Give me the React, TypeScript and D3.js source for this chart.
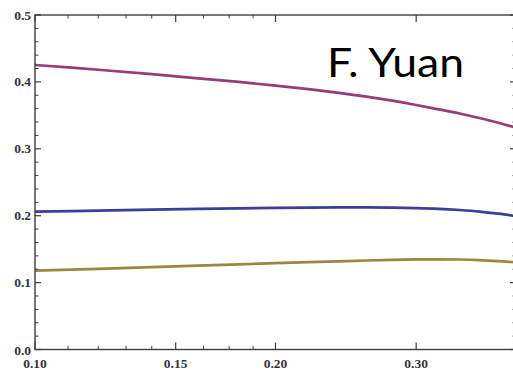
import React from "react";
import * as d3 from "d3";

// Sample abscissae (log axis) and the three curves
const xs = [0.10, 0.12, 0.14, 0.16, 0.18, 0.20, 0.22, 0.24, 0.26, 0.28, 0.30, 0.32, 0.34, 0.36, 0.38, 0.40];
const magentaSeries = [0.4253, 0.4182, 0.4115, 0.4054, 0.3999, 0.3945, 0.3891, 0.3837, 0.378, 0.3719, 0.3655, 0.3589, 0.3528, 0.346, 0.3389, 0.3317];
const blueSeries = [0.206, 0.2075, 0.209, 0.2101, 0.211, 0.2116, 0.212, 0.2123, 0.2123, 0.212, 0.2114, 0.2103, 0.2085, 0.2062, 0.203, 0.1993];
const oliveSeries = [0.1178, 0.1205, 0.123, 0.1253, 0.1273, 0.129, 0.1305, 0.1318, 0.133, 0.134, 0.1346, 0.1348, 0.1345, 0.1335, 0.132, 0.1303];

const xMajorTicks = [0.10, 0.15, 0.20, 0.30];
const xMajorLabels = ["0.10", "0.15", "0.20", "0.30"];
const xMinorTicks = [0.11, 0.12, 0.13, 0.14, 0.1625, 0.175, 0.1875];
const yMajorTicks = [0.0, 0.1, 0.2, 0.3, 0.4, 0.5];
const yMajorLabels = ["0.0", "0.1", "0.2", "0.3", "0.4", "0.5"];
const yMinorTicks = d3.range(0, 0.5001, 0.02).filter((v) => Math.abs(v * 10 - Math.round(v * 10)) > 1e-6);

const series = [
  { values: magentaSeries, color: "#973d72" },
  { values: blueSeries, color: "#3e3d9a" },
  { values: oliveSeries, color: "#988840" },
];

const W = 513;
const H = 371;
const left = 35;
const right = 516;
const top = 15;
const bottom = 349.5;

export default function App() {
  const x = d3.scaleLog().domain([0.1, 0.4]).range([left, right]);
  const y = d3.scaleLinear().domain([0, 0.5]).range([bottom, top]);
  const line = d3
    .line<number>()
    .x((_, i) => x(xs[i]))
    .y((v) => y(v))
    .curve(d3.curveCatmullRom);

  const frameColor = "#3d3d3d";
  const labelStyle: React.CSSProperties = {
    fontFamily: "'Liberation Serif', serif",
    fontSize: "13.5px",
    fontWeight: 600,
    fill: "#33333f",
  };

  return (
    <svg width={W} height={H} style={{ position: "absolute", left: 0, top: 0, background: "#fff" }}>
      <defs>
        <clipPath id="plot">
          <rect x={left} y={top} width={right - left} height={bottom - top} />
        </clipPath>
        <filter id="soft" x="-5%" y="-20%" width="110%" height="140%">
          <feGaussianBlur stdDeviation="0.45" />
        </filter>
      </defs>

      <g clipPath="url(#plot)" filter="url(#soft)">
        {series.map((s, i) => (
          <path key={i} d={line(s.values) || ""} fill="none" stroke={s.color} strokeWidth={2.7} strokeLinecap="round" />
        ))}
      </g>

      {/* frame */}
      <rect x={left} y={top} width={right - left} height={bottom - top} fill="none" stroke={frameColor} strokeWidth={1.4} />

      {/* x ticks, bottom and top */}
      {xMajorTicks.map((t) => (
        <g key={"xM" + t}>
          <line x1={x(t)} x2={x(t)} y1={bottom} y2={bottom - 7} stroke={frameColor} strokeWidth={1.2} />
          <line x1={x(t)} x2={x(t)} y1={top} y2={top + 7} stroke={frameColor} strokeWidth={1.2} />
        </g>
      ))}
      {xMinorTicks.map((t) => (
        <g key={"xm" + t}>
          <line x1={x(t)} x2={x(t)} y1={bottom} y2={bottom - 3.5} stroke={frameColor} strokeWidth={1} />
          <line x1={x(t)} x2={x(t)} y1={top} y2={top + 3.5} stroke={frameColor} strokeWidth={1} />
        </g>
      ))}

      {/* y ticks, left and right */}
      {yMajorTicks.map((t) => (
        <g key={"yM" + t}>
          <line x1={left} x2={left + 6} y1={y(t)} y2={y(t)} stroke={frameColor} strokeWidth={1.2} />
          <line x1={right} x2={right - 6} y1={y(t)} y2={y(t)} stroke={frameColor} strokeWidth={1.2} />
        </g>
      ))}
      {yMinorTicks.map((t) => (
        <g key={"ym" + t}>
          <line x1={left} x2={left + 3.5} y1={y(t)} y2={y(t)} stroke={frameColor} strokeWidth={1} />
          <line x1={right} x2={right - 3.5} y1={y(t)} y2={y(t)} stroke={frameColor} strokeWidth={1} />
        </g>
      ))}

      {/* tick labels */}
      {xMajorTicks.map((t, i) => (
        <text key={"xl" + t} x={x(t)} y={367.5} textAnchor="middle" style={labelStyle}>
          {xMajorLabels[i]}
        </text>
      ))}
      {yMajorTicks.map((t, i) => (
        <text key={"yl" + t} x={31} y={t === 0 ? y(t) + 5 : y(t) + 4.5} textAnchor="end" style={labelStyle}>
          {yMajorLabels[i]}
        </text>
      ))}

      <text
        x={327}
        y={77}
        style={{ fontFamily: "Lato, 'Open Sans', sans-serif", fontSize: "41px", fill: "#000" }}
        textLength={137}
        lengthAdjust="spacingAndGlyphs"
      >
        F. Yuan
      </text>
    </svg>
  );
}
